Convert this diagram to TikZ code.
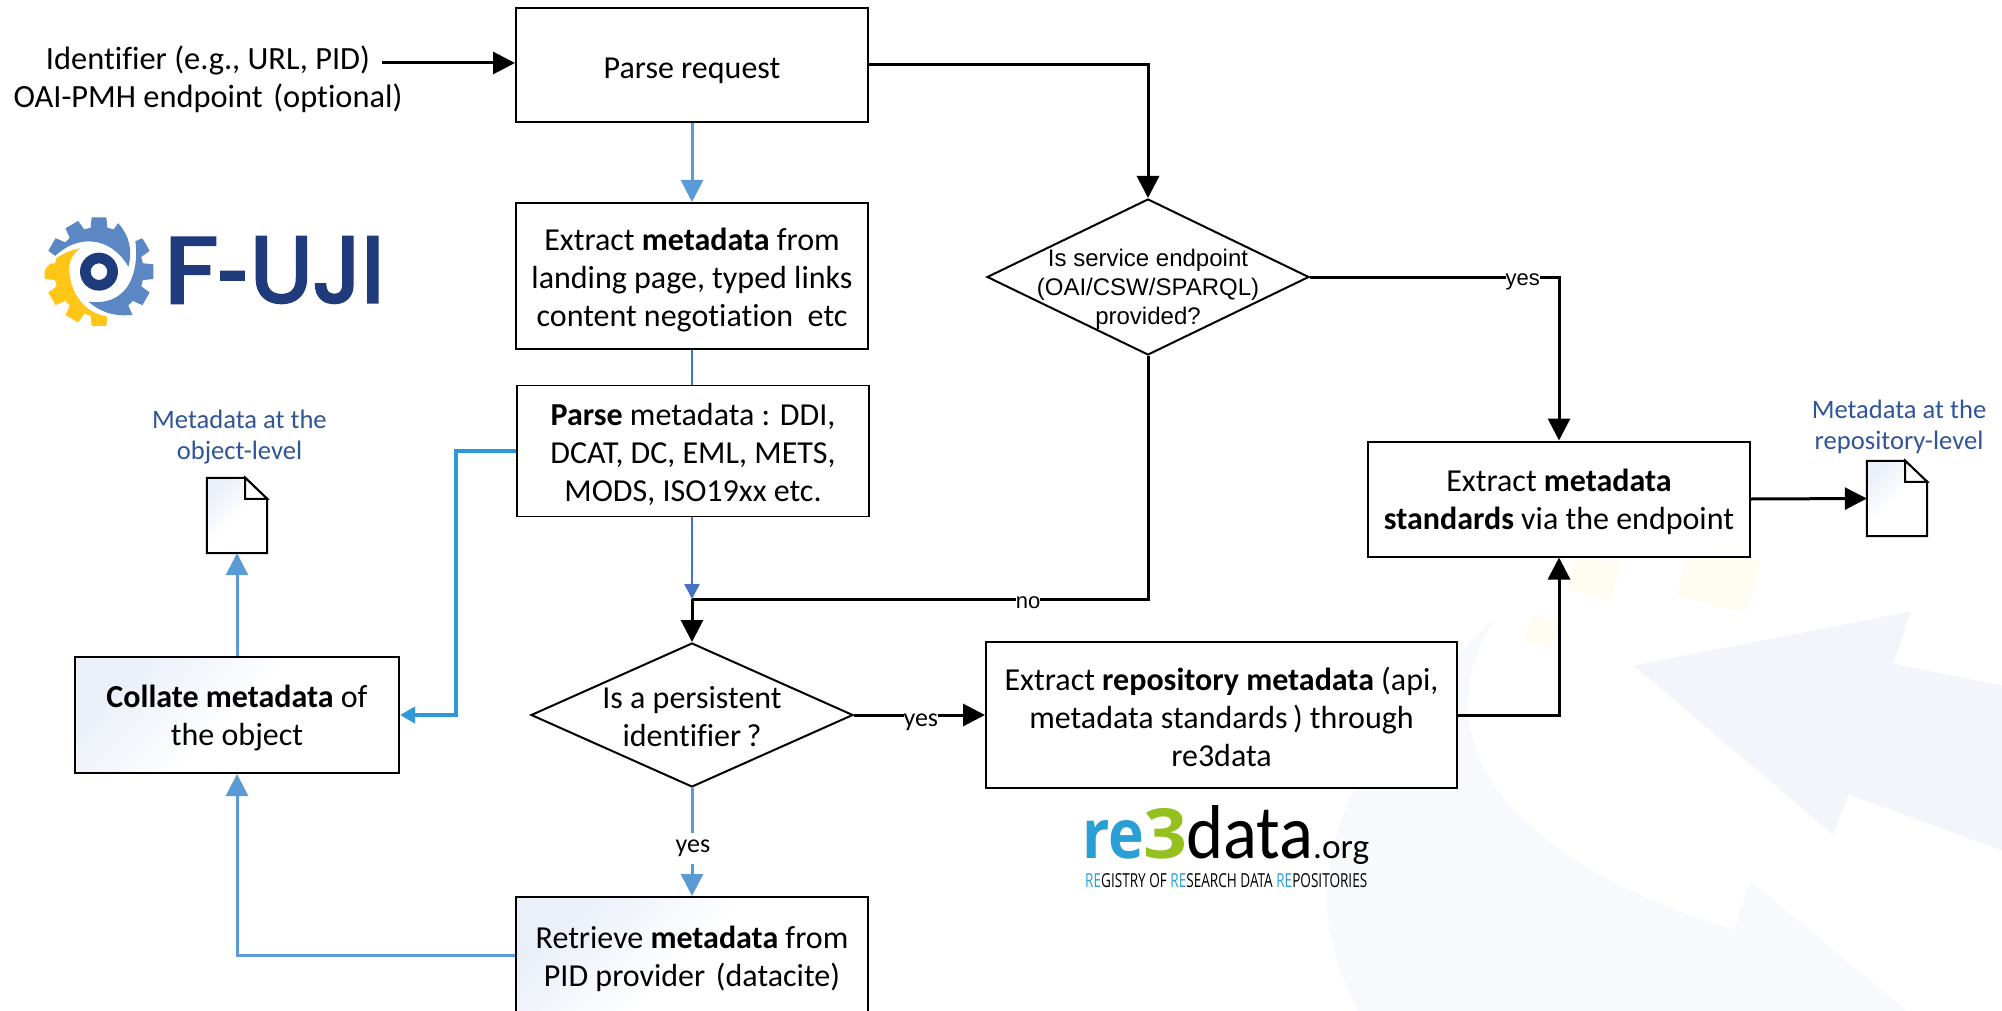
\documentclass[tikz,border=0pt]{standalone}
\usepackage{fontspec}
\setmainfont[Ligatures=NoCommon]{Carlito}
\newfontfamily\arialf{Liberation Sans}
\newfontfamily\popf[FakeBold=3.2]{Poppins}
\newfontfamily\openf{Open Sans}
\usetikzlibrary{arrows.meta,shapes.geometric,calc}
\definecolor{lblue}{HTML}{5B9BD5}
\definecolor{sblue}{HTML}{2E98DB}
\definecolor{dblue}{HTML}{4472C4}
\definecolor{tblue}{HTML}{2F5597}
\definecolor{gearblue}{HTML}{5B87C5}
\definecolor{gearyel}{HTML}{FFC617}
\definecolor{fujiblue}{HTML}{1F3B7B}
\definecolor{rblue}{HTML}{2A9FD6}
\definecolor{rgreen}{HTML}{95C11F}
\definecolor{shadeb}{HTML}{EAEFF8}
\definecolor{paleone}{HTML}{F7F9FD}
\definecolor{paletwo}{HTML}{F3F5FA}
\definecolor{paley}{HTML}{FFFDF2}
\newcommand{\gearbody}[1]{%
  \fill[#1] (297,275) circle (134);
  \foreach \a in {0,30,...,330}{
    \fill[#1,rotate around={\a:(297,275)}] (275,112) -- (319,112) -- (323,150) -- (271,150) -- cycle;
  }%
}
\tikzset{
  x=1pt,y=-1pt,
  boxtext/.style={align=center,inner sep=0pt,font=\fontsize{32}{38}\selectfont},
  boxlabel/.style 2 args={label={[boxtext,yshift=-#1pt]center:{#2}}},
  box/.style={draw=black,line width=2pt,fill=white,inner sep=0pt},
  gradbox/.style={box,left color=shadeb,right color=white,middle color=white,shading angle=45},
  dia/.style={draw=black,line width=2pt,fill=white,diamond,inner sep=0pt},
  diatext/.style={align=center,inner sep=0pt},
  blk/.style={draw=black,line width=3pt,line join=miter,-{Triangle[length=22pt,width=22pt]}},
  blu/.style={draw=lblue,line width=3pt,line join=miter,-{Triangle[length=22pt,width=22pt]}},
  plain text/.style={align=center,inner sep=0pt},
  tag/.style={fill=white,inner sep=0pt,font=\arialf\fontsize{22}{24}\selectfont},
  ctag/.style={fill=white,inner sep=0pt,font=\fontsize{26}{28}\selectfont},
  lvl/.style={plain text,text=tblue,font=\fontsize{26.6}{31}\selectfont},
  docnode/.style={minimum width=60pt,minimum height=75pt,inner sep=0pt},
}
\begin{document}
\begin{tikzpicture}
\useasboundingbox (0,0) rectangle (2002,1011);
\clip (0,0) rectangle (2002,1011);
% pale background
\begin{scope}[shift={(1300pt,-380pt)},x=0.4478pt,y=-0.4024pt]
  \fill[paley] (615,445) -- (720,455) -- (695,548) -- (595,520) -- cycle;
  \fill[paley] (870,408) -- (1030,450) -- (995,578) -- (840,540) -- cycle;
  \fill[paley] (515,585) -- (590,600) -- (560,665) -- (500,650) -- cycle;
  \fill[paleone] (440,590) .. controls (190,830) and (60,1060) .. (60,1300) .. controls (60,1400) and (100,1500) .. (140,1600)
    -- (1390,1600) -- (1005,1245) -- (970,1365) .. controls (700,1280) and (500,1130) .. (430,1000) .. controls (360,880) and (350,730) .. (440,590) -- cycle;
  \fill[paletwo] (745,710) -- (1365,575) -- (1325,705) -- (1570,760) -- (1570,1170) -- (1225,1030) -- (1190,1130) -- cycle;
\end{scope}
% F-UJI logo
\begin{scope}[shift={(0pt,-180pt)},x=0.3333pt,y=-0.3333pt]
  \begin{scope}
    \clip (240,205) .. controls (180,215) and (130,260) .. (120,300) -- (120,450) -- (322,450) -- (322,410) .. controls (250,400) and (205,330) .. (208,260) .. controls (208,240) and (222,220) .. (240,205) -- cycle;
    \gearbody{gearyel}
  \end{scope}
  \begin{scope}
    \clip (130,200) -- (165,228) .. controls (230,165) and (330,165) .. (385,260) .. controls (400,210) and (385,160) .. (350,125) -- (350,95) -- (130,95) -- cycle;
    \gearbody{gearblue}
  \end{scope}
  \begin{scope}
    \clip (265,365) .. controls (300,395) and (340,410) .. (390,405) -- (480,420) -- (480,170) -- (405,178) .. controls (415,230) and (405,300) .. (370,335) .. controls (340,365) and (300,370) .. (265,365) -- cycle;
    \gearbody{gearblue}
  \end{scope}
  \fill[fujiblue,even odd rule] (297,275) circle (57) (297,275) circle (25);
\end{scope}
\node[inner sep=0pt,anchor=south west,text=fujiblue] (fujif) at (164,303) {\resizebox{54pt}{65pt}{\popf F}};
\node[inner sep=0pt,anchor=north,text=fujiblue,font=\fontsize{93}{93}\selectfont] (fujih) at (233.5,272) {\scalebox{.62}[1]{\popf -}};
\node[inner sep=0pt,anchor=south west,text=fujiblue] (fujirest) at (250,303) {\resizebox{134pt}{65pt}{\popf UJI}};
% re3data logo
\node[inner sep=0pt,anchor=base west,text=rblue] (rere) at (1082,858) {\resizebox{62pt}{38pt}{\openf\bfseries re}};
\node[inner sep=0pt,anchor=base west,text=rgreen] (rethree) at (1143,858) {\resizebox{44pt}{50pt}{\openf\bfseries 3}};
\node[inner sep=0pt,anchor=base west] (redata) at (1186,858) {\resizebox{127pt}{53pt}{data}};
\node[inner sep=0pt,anchor=base west] (reorg) at (1313,858) {\resizebox{56pt}{17pt}{.org}};
\node[inner sep=0pt,anchor=base west] (retag) at (1085,887) {\resizebox{282pt}{14pt}{\openf\textcolor{rblue}{RE}GISTRY OF \textcolor{rblue}{RE}SEARCH DATA \textcolor{rblue}{RE}POSITORIES}};
% input
\node[plain text,font=\fontsize{32.4}{38}\selectfont] (input) at (208,79) {Identifier (e.g., URL, PID)\\OAI-PMH endpoint\,\,(optional)};
\coordinate (instart) at (382,63);
% boxes
\node[box,minimum width=352pt,minimum height=114pt,boxlabel={6}{Parse request}] (parse) at (692,65) {};
\node[box,minimum width=352pt,minimum height=146pt,boxlabel={3.8}{Extract \textbf{metadata} from\\landing page, typed links\\content negotiation\ \ etc}] (extract) at (692,276) {};
\node[box,line width=1.2pt,minimum width=352pt,minimum height=131pt,boxlabel={3}{\textbf{Parse} metadata : DDI,\\DCAT, DC, EML, METS,\\MODS, ISO19xx etc.}] (parsemeta) at (693,451) {};
\node[dia,aspect=2.2,minimum width=322pt,minimum height=144pt,
  label={[diatext,yshift=-2pt,font=\fontsize{32}{38}\selectfont,name=pidtext]center:{Is a persistent\\identifier\,?}}] (pid) at (692,715) {};
\node[gradbox,minimum width=352pt,minimum height=116pt,boxlabel={3.5}{Retrieve \textbf{metadata} from\\PID provider\,\,(datacite)}] (retrieve) at (692,955) {};
\node[gradbox,minimum width=324pt,minimum height=116pt,boxlabel={3}{\textbf{Collate metadata} of\\the object}] (collate) at (237,715) {};
\node[dia,aspect=2.04,minimum width=322pt,minimum height=156pt,
  label={[diatext,yshift=-12.5pt,font=\arialf\fontsize{24}{29}\selectfont,name=svctext]center:{Is service endpoint\\(OAI/CSW/SPARQL)\\provided?}}] (svc) at (1148,277) {};
\node[box,minimum width=382pt,minimum height=115pt,boxlabel={3.2}{Extract \textbf{metadata}\\\textbf{standards} via the endpoint}] (std) at (1559,499) {};
\node[box,minimum width=471pt,minimum height=146pt,boxlabel={2}{Extract \textbf{repository metadata} (api,\\metadata standards\,) through\\re3data}] (repo) at (1221.5,715) {};
% documents
\node[docnode] (docobj) at (237,515.5) {};
\node[docnode] (docrepo) at (1897,498.5) {};
\foreach \d in {docobj,docrepo}{
  \draw[line width=2pt,left color=shadeb,right color=white,middle color=white,shading angle=45,line join=miter]
    (\d.south west) -- (\d.north west) -- ($(\d.north east)+(-22pt,0pt)$) -- ($(\d.north east)+(0pt,-21pt)$) -- (\d.south east) -- cycle;
  \draw[line width=2pt,line join=miter,fill=white]
    ($(\d.north east)+(-22pt,0pt)$) -- ($(\d.north east)+(-22pt,-21pt)$) -- ($(\d.north east)+(0pt,-21pt)$) -- cycle;
}
\node[lvl] (lvlobj) at (239.5,437) {Metadata at the\\object-level};
\node[lvl] (lvlrepo) at (1899,426.5) {Metadata at the\\repository-level};
% connectors
\coordinate (join) at (692,599);
\draw[blk] (instart) -- (instart -| parse.west);
\draw[blu] (parse.south) -- (extract.north);
\draw[draw=dblue,line width=2.4pt] (extract.south) -- (parsemeta.north -| extract.south);
\draw[draw=dblue,line width=2.4pt,-{Triangle[length=15pt,width=15pt]}] (parsemeta.south -| extract.south) -- (join);
\draw[blk] (parse.east) -| (svc.north);
\draw[draw=black,line width=3pt,line join=miter] (svc.south) |- (join);
\draw[blk] (join) -- (pid.north);
\draw[blk] (svc.east) -| node[tag,pos=0.427,yshift=-5pt] (yesa) {yes} (std.north);
\draw[blk] (pid.east) -- node[ctag,pos=0.51,yshift=-7pt] (yesb) {yes} (repo.west);
\draw[blk] (repo.east) -| (std.south);
\draw[blk] (std.east) -- (docrepo.west);
\draw[blu] (pid.south) -- node[ctag,pos=0.5,yshift=-6pt,xshift=1pt,minimum height=31pt] (yesc) {yes} (retrieve.north);
\draw[blu] (collate.north) -- (docobj.south);
\draw[draw=sblue,line width=4pt,line join=miter,-{Triangle[length=15pt,width=16pt]}] (parsemeta.west) -- ++(-60pt,0pt) |- (collate.east);
\draw[blu] (retrieve.west) -| (collate.south);
\node[tag] (noa) at (1028,603) {no};
\end{tikzpicture}
\end{document}
